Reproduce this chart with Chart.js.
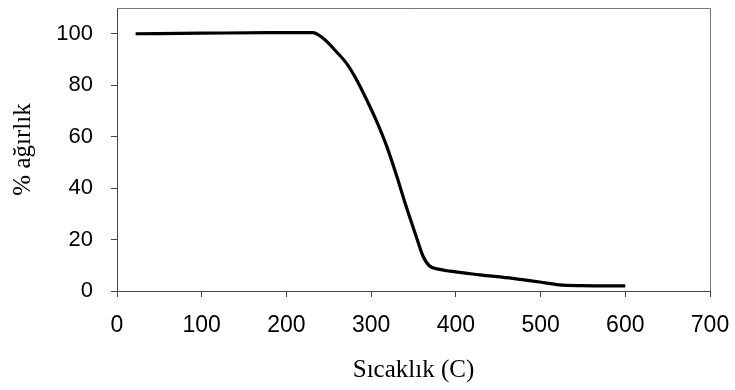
<!DOCTYPE html>
<html>
<head>
<meta charset="utf-8">
<script src="https://cdn.jsdelivr.net/npm/chart.js@4/dist/chart.umd.min.js"></script>
<style>
  html, body { margin: 0; padding: 0; background: #fff; }
  #wrap { width: 735px; height: 390px; }
</style>
</head>
<body>
<div id="wrap"><canvas id="tga"></canvas></div>
<script>
// TGA curve: temperature (C) vs remaining weight (%)
var SICAKLIK = [22, 100, 180, 231, 243, 259, 271, 282, 294, 306, 318, 330, 341, 353, 361, 369, 381, 393, 428, 467, 499, 522, 547, 600];
var AGIRLIK  = [100, 100.2, 100.4, 100.4, 98.3, 93.0, 88.5, 82.6, 74.8, 66.3, 56.6, 44.9, 33.2, 21.4, 13.7, 9.7, 8.4, 7.7, 6.3, 4.9, 3.5, 2.4, 2.1, 2.0];
var X_TICKS = [0, 100, 200, 300, 400, 500, 600, 700];
var Y_TICKS = [0, 20, 40, 60, 80, 100];

var SANS = "'Liberation Sans', Arial, sans-serif";
var SERIF = "'Liberation Serif', 'Times New Roman', serif";

// frame round the plot area (top and right sides)
var cerceve = {
	id: 'cerceve',
	beforeDatasetsDraw: function(chart) {
		var a = chart.chartArea, ctx = chart.ctx;
		ctx.save();
		ctx.strokeStyle = '#777';
		ctx.lineWidth = 1;
		ctx.beginPath();
		ctx.moveTo(a.left, a.top + 0.5);
		ctx.lineTo(a.right + 0.5, a.top + 0.5);
		ctx.lineTo(a.right + 0.5, a.bottom);
		ctx.stroke();
		ctx.restore();
	}
};

// keep the label overhang from shrinking the plot area
function sifirPadding(s) {
	s.paddingTop = 0;
	s.paddingBottom = 0;
	s.paddingLeft = 0;
	s.paddingRight = 0;
}

var ctx = document.getElementById('tga').getContext('2d');
window.tgaChart = new Chart(ctx, {
	type: 'line',
	data: {
		datasets: [{
			data: SICAKLIK.map(function(t, i) { return { x: t, y: AGIRLIK[i] }; }),
			borderColor: '#000',
			borderWidth: 3.2,
			pointRadius: 0,
			cubicInterpolationMode: 'monotone',
			fill: false
		}]
	},
	options: {
		responsive: true,
		maintainAspectRatio: false,
		animation: false,
		layout: { padding: { top: 8, right: 25, bottom: 0, left: 0 } },
		plugins: { legend: { display: false }, tooltip: { enabled: false } },
		scales: {
			x: {
				type: 'linear',
				min: 0,
				max: 700,
				afterFit: function(s) { s.height = 99; sifirPadding(s); },
				afterBuildTicks: function(s) { s.ticks = X_TICKS.map(function(v) { return { value: v }; }); },
				grid: { drawOnChartArea: false, tickLength: 6, color: '#444', tickColor: '#444' },
				border: { color: '#444', width: 1 },
				ticks: { color: '#000', padding: 15, maxRotation: 0, font: { family: SANS, size: 23 } },
				title: { display: true, text: 'Sıcaklık (C)', color: '#000', padding: { top: 0, bottom: 5 }, font: { family: SERIF, size: 25 } }
			},
			y: {
				min: 0,
				max: 110,
				afterFit: function(s) { s.width = 117; sifirPadding(s); },
				afterBuildTicks: function(s) { s.ticks = Y_TICKS.map(function(v) { return { value: v }; }); },
				grid: { drawOnChartArea: false, tickLength: 6, color: '#444', tickColor: '#444' },
				border: { color: '#444', width: 1 },
				ticks: { color: '#000', padding: 18, font: { family: SANS, size: 22 } },
				title: { display: true, text: '% ağırlık', color: '#000', padding: { top: 8, bottom: 0 }, font: { family: SERIF, size: 25 } }
			}
		}
	},
	plugins: [cerceve]
});
</script>
</body>
</html>
